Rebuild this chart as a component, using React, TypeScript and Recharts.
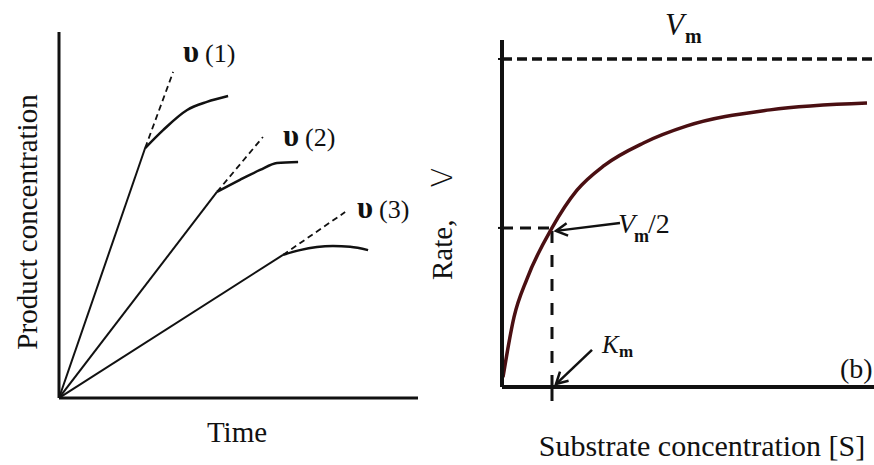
import { LineChart, Line, XAxis, YAxis, ReferenceLine } from "recharts";

// (a) product formed over time at three enzyme levels
const time1 = [0, 2.4, 2.9, 3.57, 4.12, 4.71];
const product1 = [0, 6.83, 7.32, 7.87, 8.09, 8.25];
const time2 = [0, 4.4, 5.04, 5.6, 6.07, 6.66];
const product2 = [0, 5.63, 5.96, 6.23, 6.42, 6.45];
const time3 = [0, 6.24, 6.71, 7.63, 8.11, 8.61];
const product3 = [0, 3.91, 4.04, 4.15, 4.13, 4.04];

// initial-rate tangents (start, end)
const tangentTime1 = [2.4, 3.18];
const tangentProduct1 = [6.83, 8.91];
const tangentTime2 = [4.4, 5.68];
const tangentProduct2 = [5.63, 7.13];
const tangentTime3 = [6.24, 7.97];
const tangentProduct3 = [3.91, 5.08];

const rateLabels = ["(1)", "(2)", "(3)"];

// (b) Michaelis-Menten curve, S in units of Km, rate in units of Vm
const substrate = [0.02, 0.24, 0.5, 1, 1.5, 2.04, 2.83, 3.7, 5.36, 7.3];
const rate = [0.03, 0.213, 0.33, 0.485, 0.6, 0.675, 0.744, 0.796, 0.845, 0.866];
const VMAX = 1;
const HALF_RATE = 0.485;
const KM = 1;

const toPoints = (xs: number[], ys: number[]) => xs.map((t, i) => ({ t, c: ys[i] }));

const serif = "'Liberation Serif', 'Times New Roman', serif";

const Arrow = (p: any) => {
  const { x1, y1, x2, y2 } = p;
  const a = Math.atan2(y2 - y1, x2 - x1);
  const len = 13;
  const spread = 0.5;
  const ax = x2 - len * Math.cos(a - spread);
  const ay = y2 - len * Math.sin(a - spread);
  const bx = x2 - len * Math.cos(a + spread);
  const by = y2 - len * Math.sin(a + spread);
  return (
    <g>
      <line x1={x1} y1={y1} x2={x2} y2={y2} stroke="#111" strokeWidth={2.5} />
      <polyline points={`${ax},${ay} ${x2},${y2} ${bx},${by}`} fill="none" stroke="#111" strokeWidth={2.5} />
    </g>
  );
};

function ProgressCurves() {
  const curves = [
    toPoints(time1, product1),
    toPoints(time2, product2),
    toPoints(time3, product3),
  ];
  const tangents = [
    toPoints(tangentTime1, tangentProduct1),
    toPoints(tangentTime2, tangentProduct2),
    toPoints(tangentTime3, tangentProduct3),
  ];
  const labelPos = [
    [183, 62],
    [283, 146],
    [357, 218],
  ];
  return (
    <LineChart width={437} height={465} margin={{ top: 32, right: 19, bottom: 66, left: 58 }}>
      <XAxis
        type="number"
        dataKey="t"
        domain={[0, 10]}
        allowDataOverflow
        height={1}
        tick={false}
        tickLine={false}
        axisLine={{ stroke: "#111", strokeWidth: 3 }}
      />
      <YAxis
        type="number"
        dataKey="c"
        domain={[0, 10]}
        allowDataOverflow
        width={1}
        tick={false}
        tickLine={false}
        axisLine={{ stroke: "#111", strokeWidth: 3 }}
      />
      {/* straight initial part, origin to knee */}
      {curves.map((d, i) => (
        <Line
          key={`lin-${i}`}
          data={d.slice(0, 2)}
          dataKey="c"
          type="linear"
          stroke="#111"
          strokeWidth={2}
          dot={false}
          isAnimationActive={false}
        />
      ))}
      {/* levelling-off part */}
      {curves.map((d, i) => (
        <Line
          key={`curve-${i}`}
          data={d.slice(1)}
          dataKey="c"
          type="monotone"
          stroke="#111"
          strokeWidth={2.5}
          dot={false}
          isAnimationActive={false}
        />
      ))}
      {tangents.map((d, i) => (
        <Line
          key={`tan-${i}`}
          data={d}
          dataKey="c"
          type="linear"
          stroke="#111"
          strokeWidth={1.8}
          strokeDasharray="6 4"
          dot={false}
          isAnimationActive={false}
        />
      ))}
      {rateLabels.map((l, i) => (
        <text key={l} x={labelPos[i][0]} y={labelPos[i][1]} fontFamily={serif} fontSize={26} fill="#111">
          <tspan fontSize={31} fontWeight="bold">υ</tspan>
          <tspan dx={6}>{l}</tspan>
        </text>
      ))}
      <text x={237} y={442} textAnchor="middle" fontFamily={serif} fontSize={29} fill="#111">
        Time
      </text>
      <text
        x={37}
        y={222}
        textAnchor="middle"
        transform="rotate(-90 37 222)"
        fontFamily={serif}
        fontSize={29}
        fill="#111"
      >
        Product concentration
      </text>
    </LineChart>
  );
}

function SaturationCurve() {
  const data = substrate.map((s, i) => ({ s, v: rate[i] }));
  return (
    <LineChart width={474} height={465} data={data} margin={{ top: 40, right: 0, bottom: 77, left: 101 }}>
      <XAxis
        type="number"
        dataKey="s"
        domain={[0, 7.44]}
        allowDataOverflow
        height={1}
        ticks={[KM]}
        tickSize={14}
        tickFormatter={() => ""}
        tickLine={{ stroke: "#111", strokeWidth: 3 }}
        axisLine={{ stroke: "#111", strokeWidth: 4 }}
      />
      <YAxis
        type="number"
        dataKey="v"
        domain={[0, 1.058]}
        allowDataOverflow
        width={1}
        ticks={[HALF_RATE, VMAX]}
        tickSize={4}
        tickFormatter={() => ""}
        tickLine={{ stroke: "#111", strokeWidth: 2 }}
        axisLine={{ stroke: "#111", strokeWidth: 4 }}
      />
      <ReferenceLine y={VMAX} stroke="#111" strokeWidth={3.5} strokeDasharray="10 5" />
      <ReferenceLine
        segment={[{ x: 0, y: HALF_RATE }, { x: KM, y: HALF_RATE }]}
        stroke="#111"
        strokeWidth={3}
        strokeDasharray="11 7"
      />
      <ReferenceLine
        segment={[{ x: KM, y: 0 }, { x: KM, y: HALF_RATE }]}
        stroke="#111"
        strokeWidth={3}
        strokeDasharray="12 12"
      />
      <Line
        dataKey="v"
        type="monotone"
        stroke="#4a0f12"
        strokeWidth={3.5}
        dot={false}
        isAnimationActive={false}
      />
      <ReferenceLine segment={[{ x: 2.36, y: 0.5 }, { x: 1.08, y: 0.476 }]} shape={Arrow} />
      <ReferenceLine segment={[{ x: 1.8, y: 0.113 }, { x: 1.08, y: 0.009 }]} shape={Arrow} />

      <text x={265} y={35} fontFamily={serif} fontStyle="italic" fontSize={31} fill="#111">V</text>
      <text x={285} y={43} fontFamily={serif} fontWeight="bold" fontSize={20} fill="#111">m</text>

      <text x={218} y={233} fontFamily={serif} fontStyle="italic" fontSize={28} fill="#111">V</text>
      <text x={234} y={242} fontFamily={serif} fontWeight="bold" fontSize={18} fill="#111">m</text>
      <text x={248} y={233} fontFamily={serif} fontSize={28} fill="#111">/2</text>

      <text x={202} y={353} fontFamily={serif} fontStyle="italic" fontSize={25} fill="#111">K</text>
      <text x={219} y={357} fontFamily={serif} fontWeight="bold" fontSize={17} fill="#111">m</text>

      <text x={440} y={378} fontFamily={serif} fontSize={28} fill="#111">(b)</text>
      <text x={302} y={456} textAnchor="middle" fontFamily={serif} fontSize={30} fill="#111">
        Substrate concentration [S]
      </text>
      <text x={52} y={280} transform="rotate(-90 52 280)" fontFamily={serif} fontSize={29} fill="#111">
        Rate,<tspan dx={32} fontFamily="'DejaVu Sans', sans-serif" fontWeight={300}>V</tspan>
      </text>
    </LineChart>
  );
}

export default function App() {
  return (
    <div style={{ position: "absolute", left: 0, top: 0, width: 874, height: 465, background: "#fff", overflow: "hidden" }}>
      <div style={{ position: "absolute", left: 0, top: 0 }}>
        <ProgressCurves />
      </div>
      <div style={{ position: "absolute", left: 400, top: 0 }}>
        <SaturationCurve />
      </div>
    </div>
  );
}
